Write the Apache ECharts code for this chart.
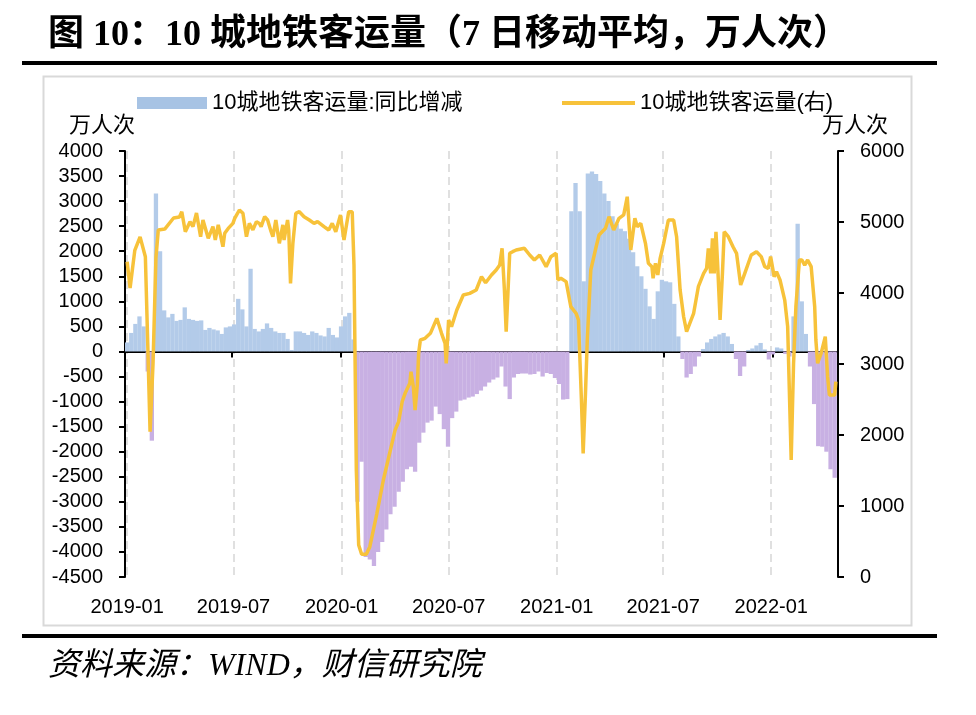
<!DOCTYPE html>
<html><head><meta charset="utf-8">
<script src="https://cdn.jsdelivr.net/npm/echarts@6/dist/echarts.min.js"></script>
<style>html,body{margin:0;padding:0;background:#fff}#c{width:976px;height:715px}</style>
</head><body><div id="c"></div>
<script>
// ---- data ----
const barSeriesName = '10城地铁客运量:同比增减';
const lineSeriesName = '10城地铁客运量(右)';
const barStart = '2019-01-01';   // weekly observations from this date
const barStepDays = 7;
const barValues = [
 180,370,550,700,500,-400,-1780,3150,2000,820,
 680,750,610,630,880,650,630,610,620,430,
 470,440,420,350,480,500,540,1050,840,500,
 1650,450,400,450,560,470,400,370,370,250,
 30,400,400,370,330,400,370,320,300,470,
 330,280,500,700,770,240,-3000,-2200,-4100,-4150,
 -4280,-4000,-3800,-3550,-3250,-3100,-2800,-2600,-2350,-2300,
 -2400,-1820,-1620,-1420,-1380,-1100,-1250,-1550,-1900,-1330,
 -1200,-980,-960,-920,-900,-850,-780,-700,-620,-560,
 -520,-300,-700,-950,-520,-450,-440,-440,-460,-450,
 -400,-500,-430,-450,-530,-650,-960,-950,2800,3360,
 2800,1400,3550,3590,3540,3400,3150,3000,2700,2550,
 2450,2400,2250,1980,1700,1500,1250,900,650,1200,
 1430,1400,1380,950,300,-150,-520,-450,-300,-100,
 50,180,250,300,340,370,300,150,-150,-490,
 -300,30,60,120,170,40,-160,-60,80,60,
 -50,-100,700,2550,1000,350,-300,-1050,-1890,-1900,
 -2000,-2350,-2520
];
const lineDates = [
 '2019-01-01','2019-01-06','2019-01-14','2019-01-23','2019-01-26','2019-02-01','2019-02-05','2019-02-09','2019-02-14','2019-02-19',
 '2019-02-23','2019-03-06','2019-03-21','2019-03-31','2019-04-04','2019-04-10','2019-04-18','2019-04-23','2019-04-29','2019-05-06',
 '2019-05-10','2019-05-19','2019-05-27','2019-05-31','2019-06-05','2019-06-13','2019-06-16','2019-06-22','2019-06-30','2019-07-03',
 '2019-07-11','2019-07-17','2019-07-23','2019-07-28','2019-08-03','2019-08-09','2019-08-14','2019-08-17','2019-08-23','2019-08-28',
 '2019-09-03','2019-09-06','2019-09-11','2019-09-17','2019-09-23','2019-09-25','2019-10-01','2019-10-03','2019-10-06','2019-10-10',
 '2019-10-15','2019-10-21','2019-10-29','2019-11-07','2019-11-15','2019-11-21','2019-12-02','2019-12-10','2019-12-16','2019-12-22',
 '2019-12-30','2020-01-05','2020-01-13','2020-01-19','2020-01-22','2020-01-26','2020-01-30','2020-02-04','2020-02-12','2020-02-18',
 '2020-03-01','2020-03-12','2020-03-24','2020-04-01','2020-04-07','2020-04-13','2020-04-18','2020-04-26','2020-04-28','2020-05-02',
 '2020-05-05','2020-05-09','2020-05-11','2020-05-14','2020-05-22','2020-05-31','2020-06-11','2020-06-19','2020-06-25','2020-06-27',
 '2020-07-01','2020-07-06','2020-07-15','2020-07-26','2020-08-06','2020-08-17','2020-08-26','2020-09-02','2020-09-12','2020-09-20',
 '2020-09-26','2020-09-30','2020-10-04','2020-10-07','2020-10-13','2020-10-18','2020-10-24','2020-11-07','2020-11-16','2020-11-24',
 '2020-12-03','2020-12-14','2020-12-22','2020-12-31','2021-01-03','2021-01-08','2021-01-17','2021-01-25','2021-02-03','2021-02-07',
 '2021-02-12','2021-02-15','2021-02-19','2021-02-22','2021-02-28','2021-03-09','2021-03-14','2021-03-25','2021-03-31','2021-04-08',
 '2021-04-17','2021-04-25','2021-05-01','2021-05-07','2021-05-14','2021-05-18','2021-05-24','2021-06-01','2021-06-06','2021-06-12',
 '2021-06-14','2021-06-18','2021-06-22','2021-06-26','2021-07-02','2021-07-10','2021-07-19','2021-07-24','2021-07-30','2021-08-05',
 '2021-08-10','2021-08-22','2021-08-30','2021-09-08','2021-09-13','2021-09-16','2021-09-20','2021-09-23','2021-09-26','2021-09-29',
 '2021-10-02','2021-10-06','2021-10-10','2021-10-13','2021-10-20','2021-10-28','2021-11-03','2021-11-10','2021-11-17','2021-11-28',
 '2021-12-07','2021-12-15','2021-12-21','2021-12-27','2021-12-31','2022-01-06','2022-01-10','2022-01-16','2022-01-24','2022-01-29',
 '2022-02-04','2022-02-08','2022-02-12','2022-02-18','2022-02-22','2022-02-27','2022-03-04','2022-03-10','2022-03-16','2022-03-18',
 '2022-03-21','2022-03-27','2022-04-03','2022-04-07','2022-04-10','2022-04-19','2022-04-21'
];
const lineValues = [
 4440,4070,4600,4790,4780,4510,3300,2046,3000,4500,
 4887,4900,5056,5070,5145,4863,5005,4935,5127,4793,
 5028,4770,4935,4746,4960,4652,4840,4910,4980,5050,
 5169,5122,4793,4980,4890,5005,4980,4935,5075,5028,
 4863,4793,5028,4700,4960,4746,5028,4880,4136,4700,
 5122,5145,5075,5028,4980,5005,4935,4887,4980,4863,
 5099,4746,5145,5145,4400,1500,450,320,320,427,
 897,1366,1789,2070,2188,2469,2587,2728,2892,2680,
 2352,2728,3151,3338,3362,3432,3643,3432,3291,3010,
 3620,3526,3761,3972,3995,4042,4230,4145,4254,4324,
 4394,4629,4042,3455,4559,4582,4606,4629,4535,4465,
 4535,4371,4512,4559,4183,4207,4160,3807,3714,3620,
 2500,1742,2600,3338,4324,4648,4817,4911,5075,4887,
 5052,5100,5356,4606,5052,4934,4982,4700,4418,4371,
 4207,4418,4254,4489,4700,5028,5028,4793,4042,3666,
 3455,3714,4089,4277,4348,4629,4277,4770,4277,4863,
 4371,3620,4277,4863,4793,4652,4559,4113,4277,4535,
 4582,4512,4371,4348,4512,4230,4300,4183,3901,3526,
 1648,3000,3807,4465,4465,4394,4465,4371,3807,3338,
 3010,3151,3385,2821,2563,2563,2751
];
const xMin = '2019-01-01';
const xMax = '2022-04-21';
const xLabelFormat = '{yyyy}-{MM}';
const leftAxis = {min: -4500, max: 4000, interval: 500};
const rightAxis = {min: 0, max: 6000, interval: 1000};
const unitName = '万人次';
const titleText = '图 10：10 城地铁客运量（7 日移动平均，万人次）';
const sourceText = '资料来源：WIND，财信研究院';

// ---- build ----
const BLUE = '#b3cbe9', PURPLE = '#c8b0e3', GOLD = '#f7c23a';
const sansFont = '"Liberation Sans", "Noto Sans CJK SC", sans-serif';
const serifFont = '"Liberation Serif", "Noto Sans CJK SC", serif';
const DAY = 86400000;

function stepDate(start, k, step) {
  const t = Date.parse(start + 'T00:00:00Z') + k * step * DAY;
  return new Date(t).toISOString().slice(0, 10);
}
const barData = barValues.map((v, k) => ({
  value: [stepDate(barStart, k, barStepDays), v],
  itemStyle: {color: v < 0 ? PURPLE : BLUE}
}));
const lineData = lineDates.map((d, i) => [d, lineValues[i]]);

const axisBlack = {color: '#000', width: 2};
const plainNum = v => String(v);
const timeAxisBase = {type: 'time', min: xMin, max: xMax, splitNumber: 5,
  minInterval: 180 * DAY, maxInterval: 186 * DAY};
const chart = echarts.init(document.getElementById('c'), null, {renderer: 'canvas'});
chart.setOption({
  animation: false,
  backgroundColor: '#fff',
  title: [
    {text: titleText, left: 43, top: 13,
     textStyle: {fontSize: 36, fontWeight: 'bold', fontFamily: serifFont, color: '#000'}},
    {text: sourceText, left: 43, top: 646,
     textStyle: {fontSize: 32, fontWeight: 'normal', fontStyle: 'italic', fontFamily: serifFont, color: '#000'}}
  ],
  graphic: [
    {type: 'rect', shape: {x: 43.5, y: 76.5, width: 868, height: 549}, style: {fill: 'none', stroke: '#d9d9d9', lineWidth: 2}, silent: true, z: -1},
    {type: 'rect', shape: {x: 22, y: 61, width: 915, height: 4}, style: {fill: '#000'}, silent: true},
    {type: 'rect', shape: {x: 22, y: 634, width: 915, height: 4}, style: {fill: '#000'}, silent: true}
  ],
  legend: [
    {left: 132, top: 87, itemWidth: 70, itemHeight: 12, itemGap: 10,
     data: [{name: barSeriesName, icon: 'rect', itemStyle: {color: '#a7c3e4'}}],
     textStyle: {fontSize: 22, fontFamily: sansFont, color: '#000'}},
    {left: 557, top: 87, itemWidth: 73, itemHeight: 4,
     data: [{name: lineSeriesName, icon: 'rect', itemStyle: {color: GOLD}}],
     textStyle: {fontSize: 22, fontFamily: sansFont, color: '#000'}}
  ],
  grid: {left: 125, right: 138, top: 151, bottom: 138, containLabel: false},
  xAxis: [
    Object.assign({}, timeAxisBase, {
     axisLine: {show: false, onZero: false}, axisTick: {show: false},
     axisLabel: {formatter: xLabelFormat, fontSize: 20, fontFamily: sansFont, color: '#000', margin: 20},
     splitLine: {show: true, lineStyle: {type: [8, 5], color: '#d6d6d6', width: 1.5}}}),
    Object.assign({}, timeAxisBase, {position: 'bottom',
     axisLine: {show: true, onZero: true, onZeroAxisIndex: 0, lineStyle: axisBlack},
     axisTick: {show: true, length: 6, lineStyle: axisBlack},
     axisLabel: {show: false}, splitLine: {show: false}})
  ],
  yAxis: [
    {type: 'value', position: 'left', min: leftAxis.min, max: leftAxis.max, interval: leftAxis.interval,
     name: unitName, nameLocation: 'end', nameGap: 14,
     nameTextStyle: {fontSize: 22, fontFamily: sansFont, color: '#000', align: 'center', padding: [0, 46, 0, 0]},
     axisLine: {show: true, lineStyle: axisBlack},
     axisTick: {show: true, length: 6, lineStyle: axisBlack},
     axisLabel: {fontSize: 20, fontFamily: sansFont, color: '#000', margin: 22, formatter: plainNum},
     splitLine: {show: false}},
    {type: 'value', position: 'right', min: rightAxis.min, max: rightAxis.max, interval: rightAxis.interval,
     name: unitName, nameLocation: 'end', nameGap: 14,
     nameTextStyle: {fontSize: 22, fontFamily: sansFont, color: '#000', align: 'center', padding: [0, 0, 0, 34]},
     axisLine: {show: true, lineStyle: axisBlack},
     axisTick: {show: true, length: 6, lineStyle: axisBlack},
     axisLabel: {fontSize: 20, fontFamily: sansFont, color: '#000', margin: 22, formatter: plainNum},
     splitLine: {show: false}}
  ],
  series: [
    {name: barSeriesName, type: 'bar', xAxisIndex: 0, yAxisIndex: 0,
     barWidth: 4.3, itemStyle: {color: BLUE}, data: barData, z: 2},
    {name: lineSeriesName, type: 'line', xAxisIndex: 0, yAxisIndex: 1,
     showSymbol: false, symbol: 'none', smooth: false,
     lineStyle: {color: GOLD, width: 3.5}, itemStyle: {color: GOLD},
     data: lineData, z: 3}
  ]
});
</script></body></html>
